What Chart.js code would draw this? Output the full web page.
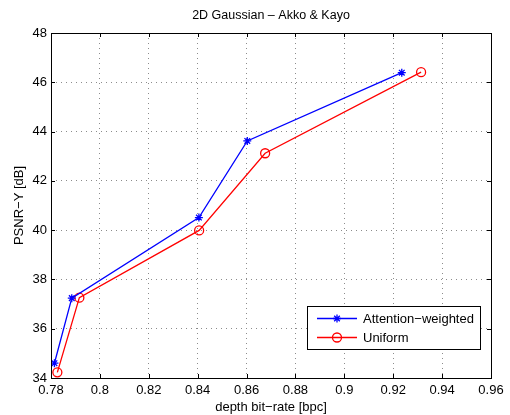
<!DOCTYPE html>
<html>
<head>
<meta charset="utf-8">
<script src="https://cdn.jsdelivr.net/npm/chart.js@4/dist/chart.umd.min.js"></script>
<style>
  body { margin: 0; background: #fff; }
  #wrap { width: 510px; height: 415px; position: relative; }
</style>
</head>
<body>
<div id="wrap"><canvas id="psnrChart"></canvas></div>
<script>
// values
const rateWeighted = [0.7814, 0.7885, 0.8405, 0.8603, 0.9235];
const psnrWeighted = [34.60, 37.24, 40.51, 43.62, 46.39];
const rateUniform = [0.7826, 0.7916, 0.8406, 0.8676, 0.9314];
const psnrUniform = [34.23, 37.26, 39.99, 43.12, 46.41];
const seriesNames = ['Attention\u2212weighted', 'Uniform'];
const chartTitle = '2D Gaussian \u2013 Akko & Kayo';
const xTicks = [0.78, 0.8, 0.82, 0.84, 0.86, 0.88, 0.9, 0.92, 0.94, 0.96];
const yTicks = [34, 36, 38, 40, 42, 44, 46, 48];

const FONT = "'Liberation Sans', Arial, Helvetica, sans-serif";

// frame box + inward tick marks, matlab style, and the title over the plot
const boxPlugin = {
    id: 'box',
    afterDatasetsDraw(chart) {
        const { ctx, chartArea: a, scales } = chart;
        ctx.save();
        ctx.strokeStyle = '#000';
        ctx.lineWidth = 1;
        ctx.beginPath();
        xTicks.forEach(v => {
            const x = Math.round(scales.x.getPixelForValue(v)) + 0.5;
            ctx.moveTo(x, a.bottom); ctx.lineTo(x, a.bottom - 4);
            ctx.moveTo(x, a.top); ctx.lineTo(x, a.top + 4);
        });
        yTicks.forEach(v => {
            const y = Math.round(scales.y.getPixelForValue(v)) + 0.5;
            ctx.moveTo(a.left, y); ctx.lineTo(a.left + 4, y);
            ctx.moveTo(a.right, y); ctx.lineTo(a.right - 4, y);
        });
        ctx.stroke();
        ctx.strokeRect(Math.round(a.left) + 0.5, Math.round(a.top) + 0.5,
            Math.round(a.right - a.left), Math.round(a.bottom - a.top));

        ctx.fillStyle = '#000';
        ctx.font = '12.5px ' + FONT;
        ctx.textAlign = 'center';
        ctx.textBaseline = 'middle';
        ctx.fillText(chartTitle, (a.left + a.right) / 2, 16);
        ctx.restore();
    }
};

// legend box inside the plot, lower right
const legendBox = {
    id: 'legendBox',
    afterDraw(chart) {
        const ctx = chart.ctx;
        const bx = 307, by = 306, bw = 173, bh = 43;
        ctx.save();
        ctx.fillStyle = '#fff';
        ctx.fillRect(bx, by, bw, bh);
        ctx.strokeStyle = '#000';
        ctx.lineWidth = 1;
        ctx.strokeRect(bx + 0.5, by + 0.5, bw, bh);
        ctx.font = '13px ' + FONT;
        ctx.textBaseline = 'middle';
        chart.data.datasets.forEach((ds, i) => {
            const y = by + 12.5 + i * 19;
            ctx.strokeStyle = ds.borderColor;
            ctx.lineWidth = ds.borderWidth;
            ctx.beginPath();
            ctx.moveTo(bx + 10, y);
            ctx.lineTo(bx + 50, y);
            ctx.stroke();
            ctx.fillStyle = 'rgba(0,0,0,0)';
            Chart.helpers.drawPoint(ctx, {
                pointStyle: ds.pointStyle, radius: ds.pointRadius, borderWidth: ds.pointBorderWidth
            }, bx + 30, y);
            ctx.fillStyle = '#000';
            ctx.fillText(ds.label, bx + 56, y + 1);
        });
        ctx.restore();
    }
};

const ctx = document.getElementById('psnrChart').getContext('2d');
const psnrChart = new Chart(ctx, {
    type: 'scatter',
    data: {
        datasets: [
            {
                label: seriesNames[0],
                data: rateWeighted.map((r, i) => ({ x: r, y: psnrWeighted[i] })),
                showLine: true,
                borderColor: '#0000ff',
                backgroundColor: 'rgba(0,0,0,0)',
                borderWidth: 1.3,
                pointStyle: 'star',
                pointRadius: 4,
                pointBorderWidth: 1.3
            },
            {
                label: seriesNames[1],
                data: rateUniform.map((r, i) => ({ x: r, y: psnrUniform[i] })),
                showLine: true,
                borderColor: '#ff0000',
                backgroundColor: 'rgba(0,0,0,0)',
                borderWidth: 1.3,
                pointStyle: 'circle',
                pointRadius: 4.5,
                pointBorderWidth: 1.3
            }
        ]
    },
    options: {
        responsive: true,
        maintainAspectRatio: false,
        animation: false,
        layout: { padding: { left: 0, right: 19, top: 33, bottom: 0 } },
        plugins: {
            legend: { display: false },
            tooltip: { enabled: false },
            title: { display: false }
        },
        scales: {
            x: {
                type: 'linear',
                min: 0.78,
                max: 0.96,
                afterBuildTicks: s => { s.ticks = xTicks.map(v => ({ value: v })); },
                afterFit: s => { s.height = 37; },
                ticks: {
                    color: '#000',
                    padding: 5,
                    maxRotation: 0,
                    font: { family: FONT, size: 13 },
                    callback: v => String(Math.round(v * 100) / 100)
                },
                grid: { color: '#8c8c8c', drawTicks: false },
                border: { display: false, dash: [1, 4] },
                title: {
                    display: true,
                    text: 'depth bit\u2212rate [bpc]',
                    color: '#000',
                    font: { family: FONT, size: 13 },
                    padding: { top: 0, bottom: 0 }
                }
            },
            y: {
                type: 'linear',
                min: 34,
                max: 48,
                afterBuildTicks: s => { s.ticks = yTicks.map(v => ({ value: v })); },
                afterFit: s => { s.width = 51; },
                ticks: {
                    color: '#000',
                    padding: 4,
                    font: { family: FONT, size: 13 }
                },
                grid: { color: '#8c8c8c', drawTicks: false },
                border: { display: false, dash: [1, 4] },
                title: {
                    display: true,
                    text: 'PSNR\u2212Y [dB]',
                    color: '#000',
                    font: { family: FONT, size: 13 },
                    padding: { top: 12, bottom: 0 }
                }
            }
        }
    },
    plugins: [boxPlugin, legendBox]
});
</script>
</body>
</html>
